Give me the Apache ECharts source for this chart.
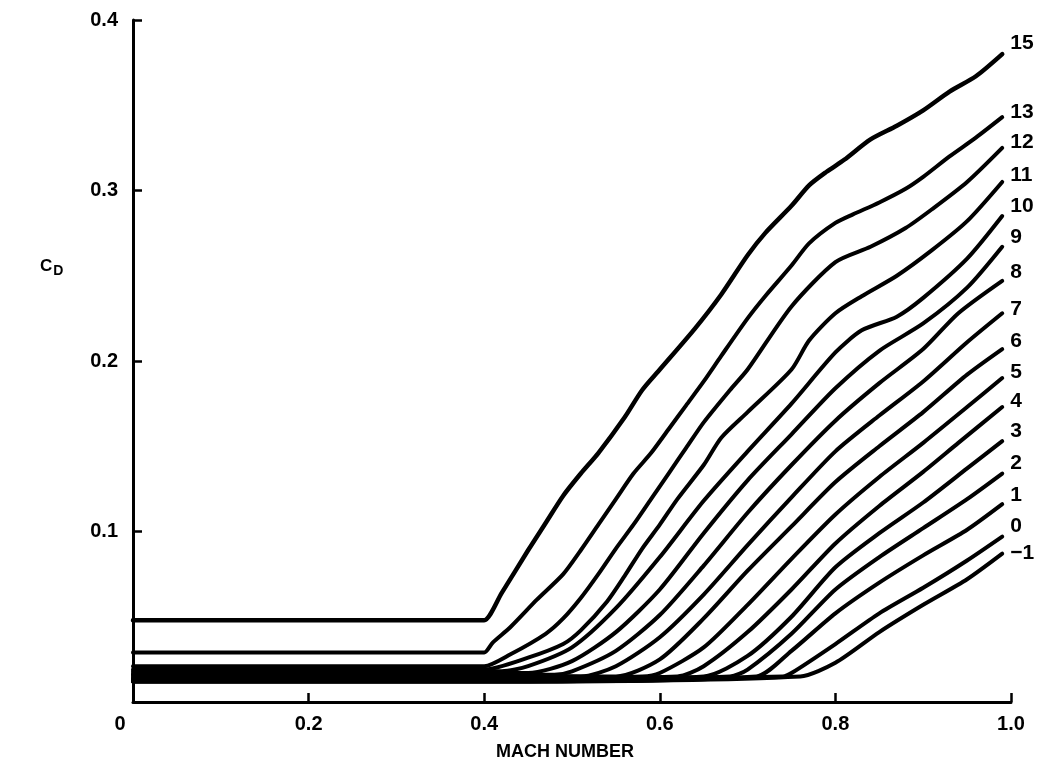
<!DOCTYPE html>
<html><head><meta charset="utf-8">
<script src="https://cdn.jsdelivr.net/npm/echarts@6/dist/echarts.min.js"></script>
<style>html,body{margin:0;padding:0;background:#fff}#c{width:1040px;height:766px}</style>
</head><body><div id="c"></div>
<script>
// Mach number / drag coefficient pairs, one array per curve (curve label = angle)
const c15 = [[0,0.048],[0.39,0.048],[0.40,0.048],[0.42,0.064],[0.45,0.089],[0.47,0.105],[0.49,0.121],[0.51,0.134],[0.53,0.146],[0.56,0.167],[0.58,0.183],[0.60,0.195],[0.64,0.219],[0.67,0.239],[0.70,0.262],[0.72,0.275],[0.75,0.291],[0.77,0.303],[0.79,0.311],[0.81,0.318],[0.84,0.330],[0.87,0.338],[0.90,0.347],[0.93,0.358],[0.96,0.367],[0.99,0.380]];
const c13 = [[0,0.029],[0.39,0.029],[0.40,0.029],[0.41,0.035],[0.43,0.044],[0.46,0.060],[0.49,0.075],[0.51,0.089],[0.53,0.104],[0.55,0.119],[0.57,0.134],[0.59,0.146],[0.61,0.160],[0.63,0.174],[0.65,0.188],[0.67,0.203],[0.70,0.225],[0.72,0.238],[0.75,0.256],[0.77,0.269],[0.80,0.281],[0.82,0.286],[0.85,0.293],[0.88,0.301],[0.90,0.308],[0.93,0.320],[0.96,0.331],[0.99,0.343]];
const c12 = [[0,0.021],[0.39,0.021],[0.40,0.021],[0.43,0.028],[0.47,0.040],[0.49,0.049],[0.51,0.061],[0.53,0.075],[0.55,0.090],[0.57,0.104],[0.59,0.119],[0.61,0.134],[0.63,0.149],[0.65,0.164],[0.68,0.183],[0.70,0.195],[0.75,0.232],[0.80,0.258],[0.84,0.267],[0.88,0.278],[0.91,0.289],[0.95,0.305],[0.99,0.325]];
const c11 = [[0,0.019],[0.39,0.019],[0.40,0.019],[0.45,0.026],[0.49,0.034],[0.51,0.042],[0.54,0.059],[0.56,0.074],[0.58,0.090],[0.60,0.104],[0.62,0.119],[0.65,0.139],[0.67,0.155],[0.70,0.170],[0.75,0.195],[0.77,0.212],[0.80,0.228],[0.83,0.238],[0.87,0.250],[0.91,0.265],[0.95,0.282],[0.99,0.305]];
const c10 = [[0,0.018],[0.40,0.018],[0.42,0.018],[0.45,0.021],[0.50,0.032],[0.55,0.055],[0.60,0.085],[0.65,0.118],[0.70,0.147],[0.75,0.175],[0.80,0.205],[0.83,0.218],[0.87,0.226],[0.90,0.237],[0.95,0.260],[0.99,0.285]];
const c9  = [[0,0.017],[0.40,0.017],[0.45,0.017],[0.50,0.024],[0.55,0.041],[0.60,0.066],[0.65,0.099],[0.70,0.130],[0.75,0.157],[0.80,0.184],[0.85,0.206],[0.90,0.222],[0.95,0.243],[0.99,0.267]];
const c8  = [[0,0.016],[0.40,0.016],[0.48,0.016],[0.50,0.018],[0.55,0.030],[0.60,0.051],[0.65,0.080],[0.70,0.111],[0.75,0.139],[0.80,0.165],[0.85,0.187],[0.90,0.207],[0.94,0.228],[0.99,0.247]];
const c7  = [[0,0.016],[0.40,0.016],[0.51,0.015],[0.55,0.021],[0.60,0.038],[0.65,0.063],[0.70,0.092],[0.75,0.120],[0.80,0.147],[0.85,0.168],[0.90,0.188],[0.95,0.211],[0.99,0.228]];
const c6  = [[0,0.015],[0.40,0.015],[0.55,0.015],[0.60,0.025],[0.65,0.049],[0.70,0.077],[0.75,0.103],[0.80,0.129],[0.85,0.150],[0.90,0.170],[0.95,0.192],[0.99,0.207]];
const c5  = [[0,0.014],[0.40,0.014],[0.58,0.015],[0.60,0.017],[0.65,0.032],[0.70,0.057],[0.75,0.084],[0.80,0.110],[0.85,0.132],[0.90,0.152],[0.95,0.173],[0.99,0.190]];
const c4  = [[0,0.014],[0.40,0.014],[0.62,0.015],[0.65,0.021],[0.70,0.041],[0.75,0.066],[0.80,0.093],[0.85,0.115],[0.90,0.135],[0.94,0.152],[0.99,0.173]];
const c3  = [[0,0.013],[0.40,0.013],[0.65,0.015],[0.70,0.027],[0.75,0.050],[0.80,0.079],[0.85,0.099],[0.90,0.117],[0.95,0.137],[0.99,0.153]];
const c2  = [[0,0.013],[0.40,0.013],[0.68,0.015],[0.70,0.019],[0.75,0.040],[0.80,0.066],[0.85,0.085],[0.90,0.102],[0.95,0.119],[0.99,0.134]];
const c1  = [[0,0.012],[0.40,0.012],[0.71,0.015],[0.75,0.030],[0.80,0.052],[0.85,0.070],[0.90,0.086],[0.95,0.101],[0.99,0.116]];
const c0  = [[0,0.012],[0.40,0.012],[0.74,0.015],[0.75,0.017],[0.80,0.034],[0.85,0.052],[0.90,0.067],[0.95,0.083],[0.99,0.097]];
const cm1 = [[0,0.012],[0.40,0.012],[0.76,0.015],[0.80,0.023],[0.85,0.041],[0.90,0.057],[0.95,0.072],[0.99,0.087]];

const curveNames = ['15','13','12','11','10','9','8','7','6','5','4','3','2','1','0','\u22121'];
const curveData  = [c15,c13,c12,c11,c10,c9,c8,c7,c6,c5,c4,c3,c2,c1,c0,cm1];
const xTicks = [0, 0.2, 0.4, 0.6, 0.8, 1.0];
const yTicks = [0.1, 0.2, 0.3, 0.4];

// label vertical nudges (style only)
const labelDy = [-11,-5,-6,-7,-10,-10,-9,-4,-8,-6,-6,-10,-10,-9,-10,0];

const FONT = '"Liberation Sans",Arial,sans-serif';
const chart = echarts.init(document.getElementById('c'), null, {renderer:'canvas'});

const series = curveData.map((d,i)=>({
  type:'line', name:curveNames[i], data:d, symbol:'none', showSymbol:false,
  smooth:0.25, silent:true, animation:false,
  lineStyle:{color:'#000', width:(i===0?4.5:4), cap:'round', join:'round'},
  endLabel:{show:true, formatter:curveNames[i], color:'#000', fontFamily:FONT,
    fontWeight:'bold', fontSize:21, offset:[0, labelDy[i]]}
}));

chart.setOption({
  animation:false,
  backgroundColor:'#fff',
  grid:{left:133, right:29, top:20, bottom:63, containLabel:false},
  xAxis:{type:'value', min:0, max:1, interval:0.2,
    axisLine:{show:true, lineStyle:{color:'#000', width:3}},
    axisTick:{show:true, inside:true, length:9, lineStyle:{color:'#000', width:2.5}},
    splitLine:{show:false},
    axisLabel:{color:'#000', fontFamily:FONT, fontWeight:'bold', fontSize:20, margin:12,
      formatter:v=> (xTicks.indexOf(v)<0? '' : (v===0 ? '{z|0}' : v.toFixed(1))),
      rich:{z:{color:'#000', fontFamily:FONT, fontWeight:'bold', fontSize:20, padding:[0,26,0,0]}}},
    name:'MACH NUMBER', nameLocation:'middle', nameGap:41,
    nameTextStyle:{color:'#000', fontFamily:FONT, fontWeight:'bold', fontSize:18, padding:[0,0,0,-14]}
  },
  yAxis:{type:'value', min:0, max:0.4, interval:0.1,
    axisLine:{show:true, lineStyle:{color:'#000', width:3}},
    axisTick:{show:true, inside:true, length:9, lineStyle:{color:'#000', width:2.5}},
    splitLine:{show:false},
    axisLabel:{color:'#000', fontFamily:FONT, fontWeight:'bold', fontSize:20, margin:15,
      formatter:v=> (yTicks.some(t=>Math.abs(t-v)<1e-9) ? v.toFixed(1) : '')}
  },
  graphic:[{type:'text', left:40, top:258, silent:true,
    style:{text:'{c|C}{d|D}', rich:{
      c:{fontFamily:FONT, fontWeight:'bold', fontSize:17, fill:'#000'},
      d:{fontFamily:FONT, fontWeight:'bold', fontSize:14, fill:'#000', padding:[10,0,0,1]}}}}],
  series:series
});
</script></body></html>
